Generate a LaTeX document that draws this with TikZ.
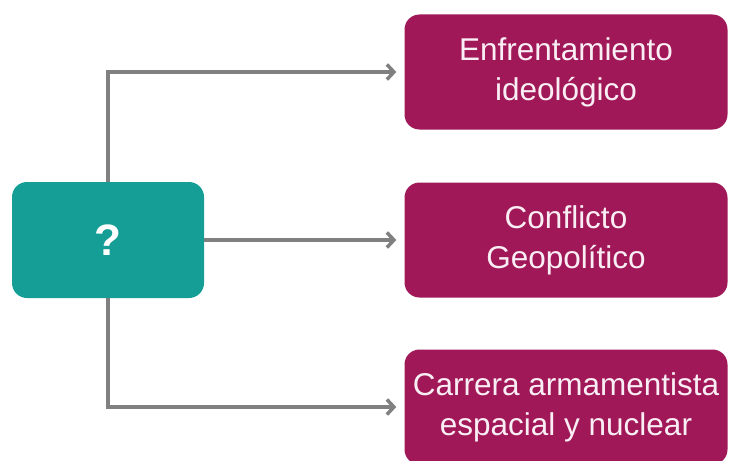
\documentclass[tikz,border=0pt]{standalone}
\usepackage{fontspec}
\setmainfont{Liberation Sans}
\usepackage{tikz}
\usetikzlibrary{arrows.meta}
\definecolor{qteal}{RGB}{20,158,150}
\definecolor{tmagenta}{RGB}{160,24,88}
\definecolor{egray}{RGB}{128,128,128}
\definecolor{tlight}{RGB}{250,238,245}
\tikzset{qbox/.style = {shape=rectangle,rounded corners=15pt,fill=qteal,text=white,minimum width=192pt,minimum height=116pt,font=\fontsize{44}{44}\selectfont\bfseries}}
\tikzset{tbox/.style = {shape=rectangle,rounded corners=15pt,fill=tmagenta,text=tlight,align=center,minimum width=323pt,minimum height=115pt,inner sep=2pt,font=\fontsize{31.5}{40}\selectfont}}
\tikzset{edge/.style = {-{Straight Barb[length=7pt,width=15pt]},draw=egray,line width=3.5pt,shorten >=8pt}}

\begin{document}
\begin{tikzpicture}[x=1pt,y=-1pt]
                \useasboundingbox (0,0) rectangle (730,460);
                \node[qbox] (q) at (108,240) {?};
                \node[tbox] (a) at (566,72) {Enfrentamiento\\ideológico};
                \draw[edge] (q.north) |- (a.west);
                \node[tbox] (b) at (566,240) {Conflicto\\Geopolítico};
                \draw[edge] (q.east) -- (b.west);
                \node[tbox] (c) at (566,407) {Carrera armamentista\\espacial y nuclear};
                \draw[edge] (q.south) |- (c.west);
            \end{tikzpicture}
\end{document}
